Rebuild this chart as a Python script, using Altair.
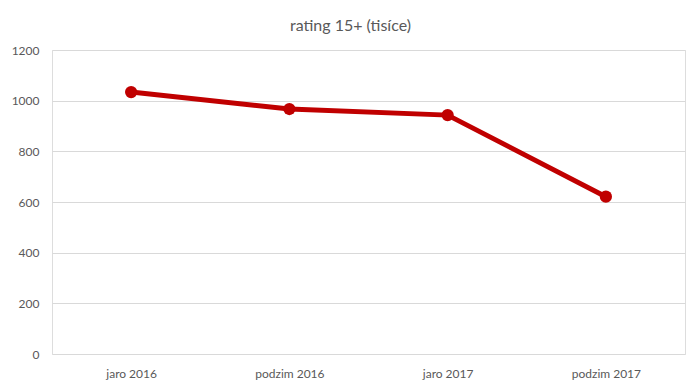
import altair as alt
import pandas as pd

categories = ["jaro 2016", "podzim 2016", "jaro 2017", "podzim 2017"]
values = [1034, 967, 943, 621]
y_ticks = [0, 200, 400, 600, 800, 1000, 1200]

df = pd.DataFrame({"obdobi": categories, "rating": values})

FONT = "Lato"
GRAY = "#595959"
RED = "#c00000"

x = alt.X("obdobi:N", sort=categories, title=None,
          scale=alt.Scale(type="point", padding=0.5),
          axis=alt.Axis(labelAngle=0, ticks=False, domain=False, grid=False,
                        labelPadding=14, labelFontSize=12, labelColor=GRAY,
                        labelFont=FONT))
y = alt.Y("rating:Q", title=None,
          scale=alt.Scale(domain=[0, 1200], nice=False),
          axis=alt.Axis(values=y_ticks, format="d", ticks=False, domain=False,
                        grid=True, gridColor="#d9d9d9", gridWidth=1,
                        labelPadding=13, labelFontSize=12, labelColor=GRAY,
                        labelFont=FONT))

base = alt.Chart(df)
line = base.mark_line(color=RED, strokeWidth=5).encode(x=x, y=y)
pts = base.mark_point(filled=True, color=RED, size=150, opacity=1).encode(x=x, y=y)

chart = (line + pts).properties(
    width=633, height=304,
    title=alt.TitleParams("rating 15+ (tisíce)", font=FONT, fontSize=16,
                          fontWeight="normal", color=GRAY, anchor="middle",
                          offset=10, dx=-18),
    autosize=alt.AutoSizeParams(type="none"),
    padding={"left": 44, "top": 42, "right": 7, "bottom": 37},
).configure_view(stroke=None).configure(background="white")

chart.save("out.html", embed_options={"renderer": "svg", "actions": False})
